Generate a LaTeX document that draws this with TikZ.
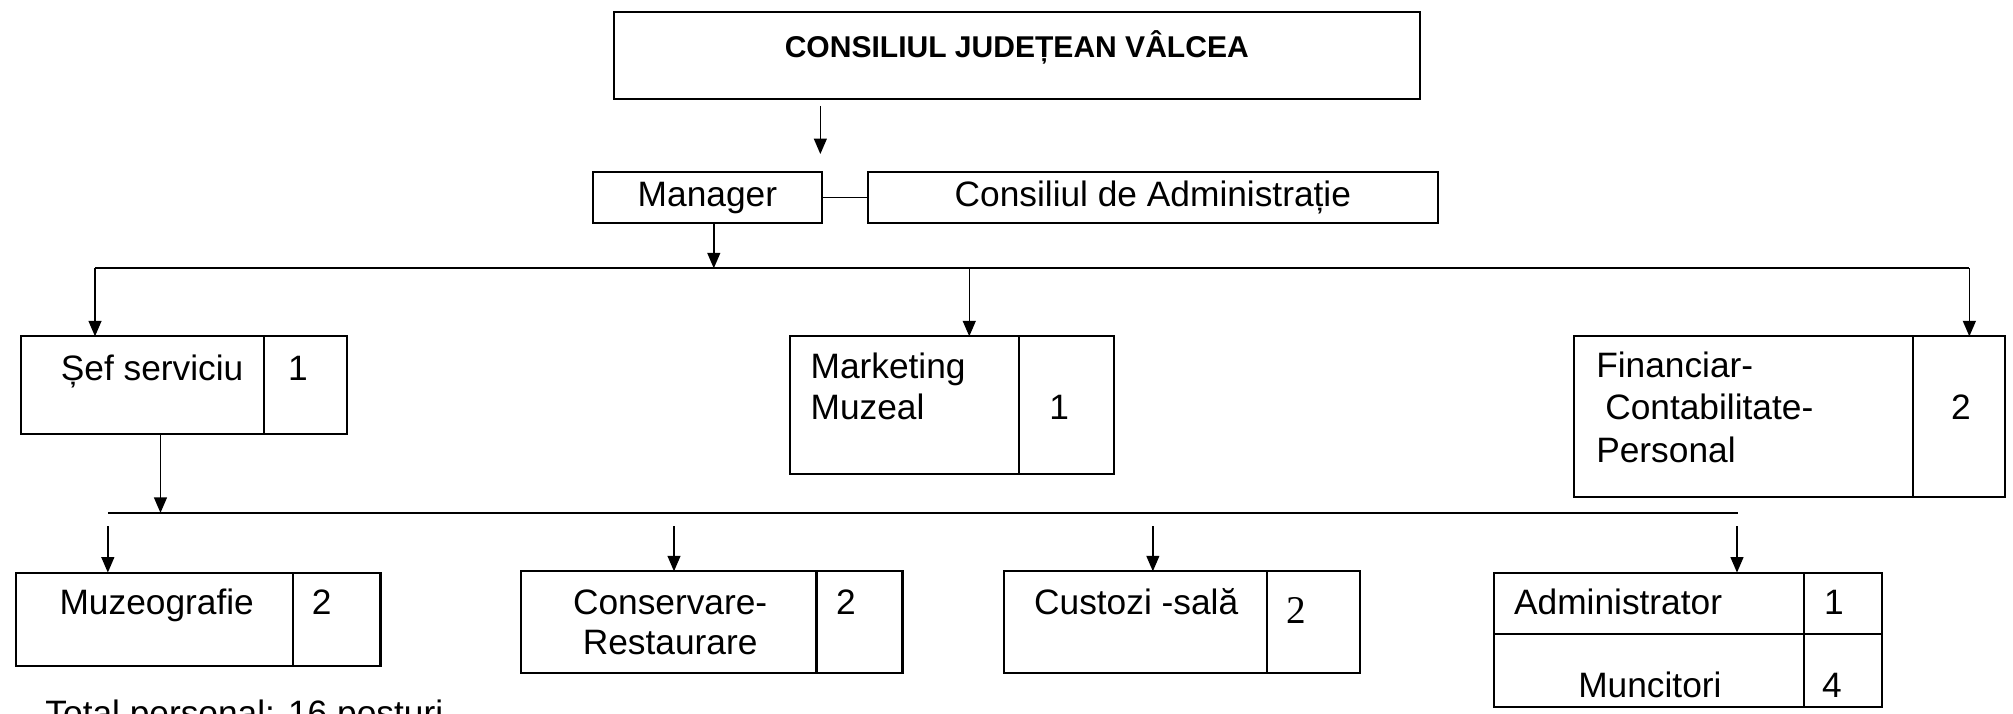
\documentclass[tikz,border=0pt]{standalone}
\usepackage{fontspec}
\setmainfont{Liberation Sans}
\newfontfamily\digserif{Liberation Serif}
\usetikzlibrary{arrows.meta}
\begin{document}
\begin{tikzpicture}[x=0.5pt,y=-0.5pt,
  bx/.style={draw, line width=0.8pt, anchor=north west, inner sep=0pt, outer sep=0pt},
  lbl/.style={anchor=base west, inner sep=0pt, font=\fontsize{13.75}{16}\selectfont},
  lblc/.style={anchor=base, inner sep=0pt, font=\fontsize{13.75}{16}\selectfont},
  arr/.style={line width=0.6pt, -{Triangle[length=6pt,width=5pt]}},
  ln/.style={line width=0.8pt}]
\useasboundingbox (0,0) rectangle (1568,556);
% boxes
\node[bx, minimum width=314pt, minimum height=34pt] (title) at (478,9) {};
\node[bx, minimum width=89pt, minimum height=20pt] (manager) at (462,134) {};
\node[bx, minimum width=222pt, minimum height=20pt] (ca) at (676,134) {};
\node[bx, minimum width=94.75pt, minimum height=38pt] (sef) at (16.5,262) {};
\node[bx, minimum width=32pt, minimum height=38pt] (sefn) at (sef.north east) {};
\node[bx, minimum width=89.3pt, minimum height=53.5pt] (mkt) at (615,262) {};
\node[bx, minimum width=37pt, minimum height=53.5pt] (mktn) at (mkt.north east) {};
\node[bx, minimum width=132pt, minimum height=62.5pt] (fin) at (1226,262) {};
\node[bx, minimum width=36pt, minimum height=62.5pt] (finn) at (fin.north east) {};
\node[bx, minimum width=107.75pt, minimum height=36.5pt] (muz) at (12.5,446) {};
\node[bx, minimum width=34.2pt, minimum height=36.5pt] (muzn) at (muz.north east) {};
\node[bx, minimum width=115pt, minimum height=39.5pt] (cons) at (406,445) {};
\node[bx, minimum width=33.5pt, minimum height=39.5pt] (consn) at (cons.north east) {};
\node[bx, minimum width=102.5pt, minimum height=39.5pt] (cus) at (782,445) {};
\node[bx, minimum width=36pt, minimum height=39.5pt] (cusn) at (cus.north east) {};
\node[bx, minimum width=120.5pt, minimum height=24pt] (adm) at (1164,446) {};
\node[bx, minimum width=30.5pt, minimum height=24pt] (admn) at (adm.north east) {};
\node[bx, minimum width=120.5pt, minimum height=28.5pt] (mun) at (adm.south west) {};
\node[bx, minimum width=30.5pt, minimum height=28.5pt] (munn) at (admn.south west) {};
% texts
\node[lblc, font=\bfseries\fontsize{11.7}{14}\selectfont] (ttitle) at (792,44.5) {CONSILIUL JUDEȚEAN VÂLCEA};
\node[lblc] (tman) at (551,161) {Manager};
\node[lblc] (tca) at (898,160.5) {Consiliul de Administrație};
\node[lbl] (tsef) at (47,296) {Șef serviciu};
\node[lblc] (nsef) at (232,296) {1};
\node[lbl] (tmkt1) at (631,295) {Marketing};
\node[lbl] (tmkt2) at (631,327) {Muzeal};
\node[lblc] (nmkt) at (825,327) {1};
\node[lbl] (tfin1) at (1243,294) {Financiar-};
\node[lbl] (tfin2) at (1250,327) {Contabilitate-};
\node[lbl] (tfin3) at (1243,360) {Personal};
\node[lblc] (nfin) at (1527.5,327) {2};
\node[lbl] (tmuz) at (46,479) {Muzeografie};
\node[lblc] (nmuz) at (250.5,479) {2};
\node[lblc] (tcons1) at (522,479) {Conservare-};
\node[lblc] (tcons2) at (522,510) {Restaurare};
\node[lblc] (ncons) at (659,479) {2};
\node[lblc] (tcus) at (885,479) {Custozi -sală};
\node[lblc, font=\digserif\fontsize{15.3}{18}\selectfont] (ncus) at (1010,486) {2};
\node[lbl] (tadm) at (1179,479) {Administrator};
\node[lblc] (nadm) at (1428.5,479) {1};
\node[lbl] (tmun) at (1229,543) {Muncitori};
\node[lblc] (nmun) at (1427,543) {4};
\node[lbl] (ttotal) at (35,565) {Total personal: 16 posturi};
% connectors
\coordinate (c639) at (639,0);
\draw[arr, shorten <=2.75pt, shorten >=7pt] (title.south -| c639) -- (manager.north -| c639);
\draw[line width=0.6pt] (manager.east) -- (ca.west);
\coordinate (b1) at (556,209);
\draw[arr] (manager.south -| b1) -- (b1);
\coordinate (b1L) at (74,209);
\coordinate (b1M) at (755,209);
\coordinate (b1R) at (1534,209);
\draw[ln] (b1L) -- (b1R);
\draw[arr] (b1L) -- (b1L |- sef.north);
\draw[arr] (b1M) -- (b1M |- mkt.north);
\draw[arr] (b1R) -- (b1R |- finn.north);
\coordinate (b2) at (125,399.5);
\draw[arr] (sef.south -| b2) -- (b2);
\coordinate (b2L) at (84,399.5);
\coordinate (b2R) at (1354,399.5);
\draw[ln] (b2L) -- (b2R);
\coordinate (d1) at (84,410);
\coordinate (d2) at (525,410);
\coordinate (d3) at (898,410);
\coordinate (d4) at (1353,410);
\draw[arr] (d1) -- (d1 |- muz.north);
\draw[arr] (d2) -- (d2 |- cons.north);
\draw[arr] (d3) -- (d3 |- cus.north);
\draw[arr] (d4) -- (d4 |- adm.north);
\end{tikzpicture}
\end{document}
